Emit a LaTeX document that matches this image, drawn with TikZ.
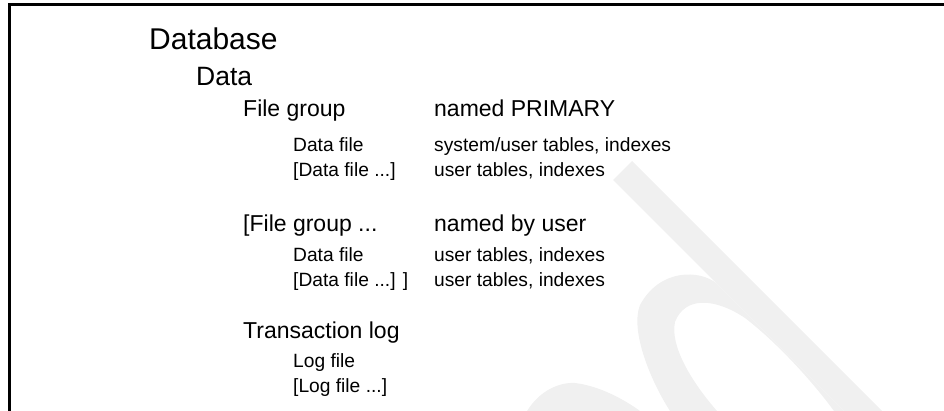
\documentclass[tikz,border=0pt]{standalone}
\usepackage{fontspec}
\setmainfont{Liberation Sans}
\usepackage{tikz}
\usetikzlibrary{positioning}
\definecolor{wmark}{RGB}{240,240,240}
\tikzset{
  lvla/.style={anchor=base west, inner sep=0pt, font=\fontsize{30}{36}\selectfont},
  lvlb/.style={anchor=base west, inner sep=0pt, font=\fontsize{26.5}{32}\selectfont},
  lvlc/.style={anchor=base west, inner sep=0pt, font=\fontsize{23}{28}\selectfont},
  lvld/.style={anchor=base west, inner sep=0pt, font=\fontsize{19.2}{23}\selectfont},
  frm/.style={line width=3pt, line join=miter},
}

\begin{document}
\begin{tikzpicture}[x=1pt, y=-1pt]
  \useasboundingbox (0,0) rectangle (944,411);
  \begin{scope}
    \clip (0,0) rectangle (944,411);
    % faint logo strokes
    \fill[wmark] (613,180) -- (632,161) -- (882,411) -- (844,411) -- cycle;
    \fill[wmark] (716,283) .. controls (700,270) and (660,268) .. (640,305)
      .. controls (630,330) and (650,380) .. (670,411) -- (717,411)
      .. controls (690,380) and (670,345) .. (675,322)
      .. controls (685,296) and (715,298) .. (745,318)
      .. controls (780,345) and (815,385) .. (834,411) -- (844,411) -- cycle;
    \fill[wmark] (527,411) .. controls (540,390) and (560,382) .. (575,383)
      .. controls (600,386) and (625,400) .. (640,411) -- cycle;
    \draw[frm] (9.5,420) -- (9.5,4.5) -- (950,4.5);
  \end{scope}

  \node[lvla] (db) at (149,50) {Database};
  \node[lvlb] (data) at (196,86) {Data};

  \node[lvlc] (fg1) at (243,117) {File group};
  \node[lvlc] (fg1note) at (434,117) {named PRIMARY};
  \node[lvld] (df1) at (293,152) {Data file};
  \node[lvld] (df1note) at (434,152) {system/user tables, indexes};
  \node[lvld] (df2) at (293,177) {[Data file ...]};
  \node[lvld] (df2note) at (434,177) {user tables, indexes};

  \node[lvlc] (fg2) at (243,232) {[File group ...};
  \node[lvlc] (fg2note) at (434,232) {named by user};
  \node[lvld] (df3) at (293,262) {Data file};
  \node[lvld] (df3note) at (434,262) {user tables, indexes};
  \node[lvld] (df4) at (293,287) {[Data file ...] ]};
  \node[lvld] (df4note) at (434,287) {user tables, indexes};

  \node[lvlc] (tlog) at (243,338) {Transaction log};
  \node[lvld] (lf1) at (293,367) {Log file};
  \node[lvld] (lf2) at (293,392) {[Log file ...]};
\end{tikzpicture}
\end{document}
